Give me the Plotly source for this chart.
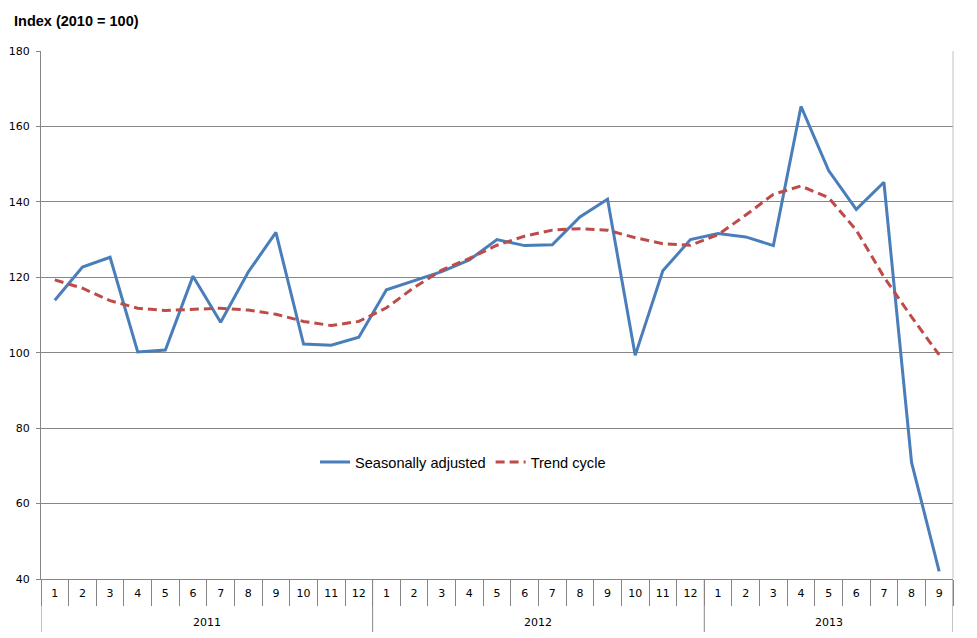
import plotly.graph_objects as go

years = ["2011"] * 12 + ["2012"] * 12 + ["2013"] * 9
months = [str(m) for m in range(1, 13)] * 2 + [str(m) for m in range(1, 10)]

seasonally_adjusted = [
    113.9, 122.7, 125.3, 100.2, 100.7, 120.3, 108.1, 121.4, 131.9, 102.3, 102.0, 104.1,
    116.7, 119.1, 121.5, 124.6, 130.0, 128.4, 128.6, 136.0, 140.7, 99.3, 121.7, 130.0,
    131.6, 130.7, 128.4, 165.3, 148.3, 138.0, 145.2, 70.9, 42.0,
]
trend_cycle = [
    119.3, 117.1, 113.8, 111.8, 111.2, 111.6, 111.8, 111.3, 110.2, 108.3, 107.2, 108.3,
    111.9, 117.3, 121.9, 125.0, 128.5, 130.9, 132.5, 132.9, 132.5, 130.5, 128.9, 128.5,
    131.3, 136.5, 142.0, 144.2, 141.1, 132.5, 120.1, 109.5, 99.4,
]
y_ticks = [40, 60, 80, 100, 120, 140, 160, 180]

W, H = 977, 638
ML, MR, MT, MB = 41, 24, 51, 59
plot_h = H - MT - MB

idx = list(range(len(months)))

fig = go.Figure()
fig.add_trace(go.Scatter(
    x=idx, y=seasonally_adjusted, mode="lines", name="Seasonally adjusted",
    line=dict(color="#4a7ebb", width=3),
))
fig.add_trace(go.Scatter(
    x=idx, y=trend_cycle, mode="lines", name="Trend cycle",
    line=dict(color="#be4b48", width=3, dash="9px,5px"),
))

# year groups: boundaries and label centres derived from the years list
groups = []
start = 0
for i in range(1, len(years) + 1):
    if i == len(years) or years[i] != years[start]:
        groups.append((years[start], start, i - 1))
        start = i

shapes = []
annotations = [dict(
    text="<b>Index (2010 = 100)</b>", xref="paper", yref="paper",
    x=(12 - ML) / (W - ML - MR), y=1 + (MT - 21) / plot_h,
    showarrow=False, xanchor="left", yanchor="middle",
    font=dict(family="Liberation Sans", size=14.5, color="#000000"),
)]
boundaries = sorted({g[1] - 0.5 for g in groups} | {g[2] + 0.5 for g in groups})
for b in boundaries:
    shapes.append(dict(
        type="line", xref="x", yref="paper", x0=b, x1=b,
        y0=0, y1=-(632 - 579) / plot_h, line=dict(color="#868686", width=1),
    ))
for name, a, b in groups:
    annotations.append(dict(
        text=name, xref="x", yref="paper", x=(a + b) / 2, y=-(622 - 579) / plot_h,
        showarrow=False, xanchor="center", yanchor="middle",
        font=dict(family="DejaVu Sans", size=11, color="#000000"),
    ))
# right border of plot area
shapes.append(dict(type="line", xref="paper", yref="paper", x0=1, x1=1, y0=0, y1=1,
                   line=dict(color="#c0c0c0", width=1)))

fig.update_layout(
    width=W, height=H,
    margin=dict(l=ML, r=MR, t=MT, b=MB, autoexpand=False),
    plot_bgcolor="white", paper_bgcolor="white",
    font=dict(family="DejaVu Sans", size=11, color="#000000"),
    showlegend=True,
    legend=dict(
        orientation="h", x=(315 - ML) / (W - ML - MR), y=(579 - 462) / plot_h,
        xanchor="left", yanchor="middle",
        bgcolor="rgba(0,0,0,0)", font=dict(family="Liberation Sans", size=14.6),
        tracegroupgap=0,
    ),
    shapes=shapes,
    annotations=annotations,
)

fig.update_yaxes(
    range=[40, 180], tickvals=y_ticks, ticktext=[str(v) for v in y_ticks],
    showgrid=True, gridcolor="#868686", gridwidth=1,
    showline=True, linecolor="#868686", linewidth=1,
    ticks="outside", ticklen=4, tickcolor="#868686",
    zeroline=False, tickfont=dict(family="DejaVu Sans", size=11),
    ticklabelstandoff=4,
    automargin=False,
)
fig.update_xaxes(
    range=[-0.5, len(months) - 0.5],
    tickvals=idx, ticktext=months,
    showline=True, linecolor="#868686", linewidth=1,
    ticks="outside", ticklen=4, tickcolor="rgba(0,0,0,0)",
    minor=dict(tick0=-0.5, dtick=1, ticks="outside", ticklen=26,
               tickcolor="#868686", showgrid=False),
    showgrid=False, zeroline=False,
    tickfont=dict(family="DejaVu Sans", size=11),
    automargin=False,
)

fig.write_html("out.html", config={"displayModeBar": False},
               post_script="document.body.style.margin='0';")
